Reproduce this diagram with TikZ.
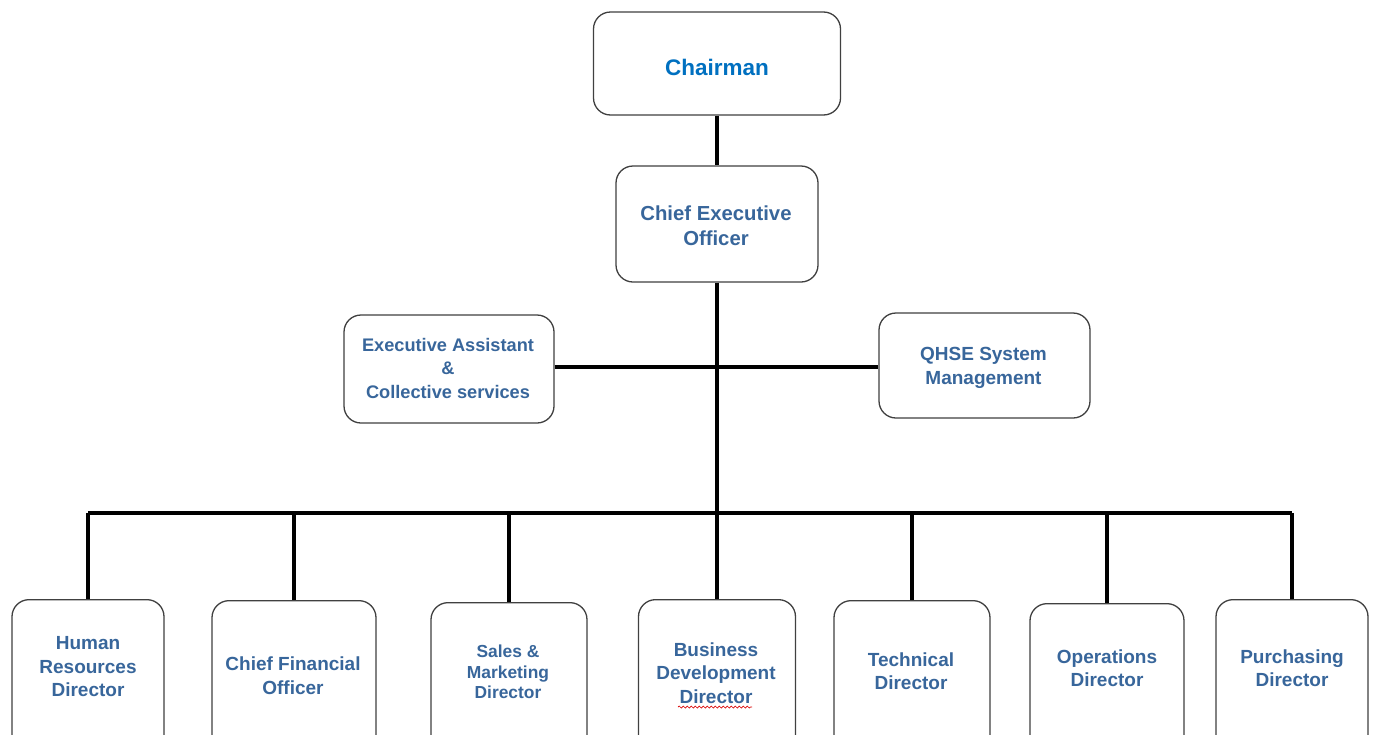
\documentclass[tikz,border=0pt]{standalone}
\usepackage{fontspec}
\setmainfont{Liberation Sans}
\usetikzlibrary{decorations.pathmorphing}
\definecolor{chairblue}{RGB}{0,112,192}
\definecolor{titleblue}{RGB}{56,102,155}
\definecolor{boxline}{RGB}{64,64,64}
\tikzset{
  post/.style={draw=boxline, line width=1.3pt, rounded corners=17pt, fill=white,
    inner sep=0pt},
  caption/.style={inner sep=0pt, align=center, text=titleblue,
    font=\bfseries\fontsize{19}{23.5}\selectfont},
  link/.style={line width=3.6pt, black},
}
\begin{document}
\begin{tikzpicture}[x=1pt, y=-1pt]
  \clip (0,0) rectangle (1374,734);
  \fill[white] (0,0) rectangle (1374,734);

  % top of the chart
  \node[post, minimum width=247pt, minimum height=103pt] (chair) at (717,63.5) {};
  \node[caption, text=chairblue, font=\bfseries\fontsize{22.5}{26}\selectfont]
       (chairT) at (717,67) {Chairman};
  \node[post, minimum width=202pt, minimum height=116pt] (ceo) at (717,224) {};
  \node[caption, font=\bfseries\fontsize{20.3}{25}\selectfont]
       (ceoT) at (716,225.5) {Chief Executive\\Officer};

  % staff functions beside the CEO line
  \node[post, minimum width=210pt, minimum height=108pt] (ea) at (449,369) {};
  \node[caption, font=\bfseries\fontsize{18.2}{23.5}\selectfont]
       (eaT) at (448,368) {Executive Assistant\\\&\\Collective services};
  \node[post, minimum width=211pt, minimum height=105pt] (qhse) at (984.5,365.5) {};
  \node[caption] (qhseT) at (983.5,368) {QHSE System\\Management};

  % directors (boxes run past the lower edge)
  \node[post, anchor=north, minimum width=152pt, minimum height=170pt] (hr)  at (88,599)  {};
  \node[post, anchor=north, minimum width=164pt, minimum height=170pt] (cfo) at (294,600) {};
  \node[post, anchor=north, minimum width=156pt, minimum height=170pt] (sm)  at (509,602) {};
  \node[post, anchor=north, minimum width=157pt, minimum height=170pt] (bd)  at (717,599) {};
  \node[post, anchor=north, minimum width=156pt, minimum height=170pt] (tec) at (912,600) {};
  \node[post, anchor=north, minimum width=154pt, minimum height=170pt] (ops) at (1107,603) {};
  \node[post, anchor=north, minimum width=152pt, minimum height=170pt] (pur) at (1292,599) {};

  \node[caption] (hrT)  at (88,667)    {Human\\Resources\\Director};
  \node[caption] (cfoT) at (293,675.5) {Chief Financial\\Officer};
  \node[caption, font=\bfseries\fontsize{17.4}{20.5}\selectfont]
       (smT)  at (508,672)   {Sales \&\\Marketing\\Director};
  \node[caption] (bdT)  at (716,673)   {Business\\Development\\Director};
  \node[caption] (tecT) at (911,671)   {Technical\\Director};
  \node[caption] (opsT) at (1107,668)  {Operations\\Director};
  \node[caption] (purT) at (1292,668)  {Purchasing\\Director};

  % spell-check mark under the last word of Business Development Director
  \draw[red!85!black, line width=0.7pt, decorate,
        decoration={snake, amplitude=1pt, segment length=4pt}] (678,707) -- (752,707);

  % reporting lines
  \coordinate (staff) at (717,367);
  \coordinate (bus) at (717,513);
  \draw[link] (chair.south) -- (ceo.north);
  \draw[link] (ceo.south) -- (bd.north);
  \draw[link] (ea.east |- staff) -- (qhse.west |- staff);
  \draw[link] (hr.north |- bus) -- (pur.north |- bus);
  \foreach \d in {hr, cfo, sm, tec, ops, pur}
    \draw[link] (\d.north |- bus) -- (\d.north);
\end{tikzpicture}
\end{document}
